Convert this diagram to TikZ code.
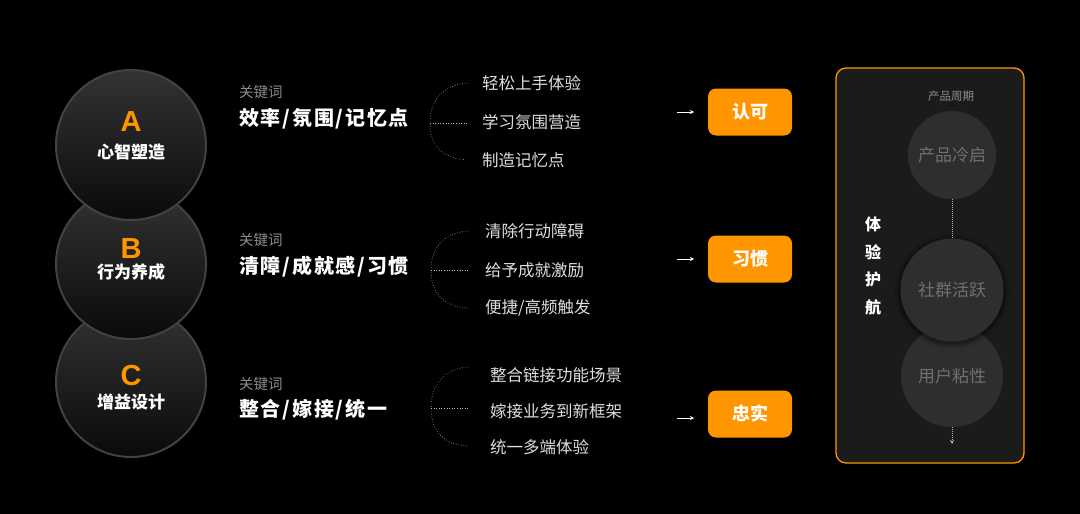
\documentclass[tikz,border=0pt]{standalone}
\usepackage{fontspec}
\setmainfont{Noto Sans CJK SC}
\newfontfamily\latf{Liberation Sans}
\newfontfamily\kwf[LetterSpace=9]{Noto Sans CJK SC}
\usetikzlibrary{arrows.meta}
\definecolor{org}{RGB}{255,150,0}
\definecolor{kw}{RGB}{140,140,140}
\definecolor{item}{RGB}{222,222,222}
\definecolor{panel}{RGB}{27,27,27}
\definecolor{pc}{RGB}{46,46,46}
\definecolor{pctext}{RGB}{112,112,112}
\newcommand{\fs}[1]{\fontsize{#1}{#1}\selectfont}
\tikzset{
  bigc/.style={circle, minimum size=150pt, inner sep=0pt, top color=black!80, bottom color=black!96, draw=black!74, line width=2pt},
  letter/.style={text=org, font=\latf\fs{29}\bfseries},
  ctitle/.style={text=white, font=\fs{17}\bfseries},
  kwlabel/.style={text=kw, font=\fs{14.5}, anchor=west, inner sep=0pt},
  kwmain/.style={text=white, font=\kwf\fs{20}\bfseries, anchor=west, inner sep=0pt},
  itemtxt/.style={text=item, font=\fs{16.5}, anchor=west, inner sep=0pt},
  bracket/.style={draw=white!75!black, line width=0.6pt, dotted},
  resbox/.style={fill=org, rounded corners=8pt, minimum width=84pt, minimum height=47pt, inner sep=0pt, text=white, font=\fs{18}\bfseries},
  arr/.style={draw=white, line width=0.9pt, -{Stealth[length=4pt,width=4pt]}},
  pcirc/.style={circle, fill=pc, inner sep=0pt, text=pctext, font=\fs{17}},
  halo/.style={circle, fill=black, inner sep=0pt},
}
\begin{document}
\begin{tikzpicture}[x=1pt,y=-1pt]
\fill[black] (0,0) rectangle (1080,514);
\useasboundingbox (0,0) rectangle (1080,514);

% left circles
\node[bigc] (cC) at (131,382) {};
\node[bigc] (cB) at (131,264) {};
\node[bigc] (cA) at (131,145) {};
\node[letter] (lA) at (131,122) {A};
\node[ctitle] (tA) at (131,152) {心智塑造};
\node[letter] (lB) at (131,249) {B};
\node[ctitle] (tB) at (131,272) {行为养成};
\node[letter] (lC) at (131,376) {C};
\node[ctitle] (tC) at (131,402) {增益设计};

% keywords
\node[kwlabel] (k1) at (239,92) {关键词};
\node[kwmain] (m1) at (239,119) {效率/氛围/记忆点};
\node[kwlabel] (k2) at (239,240) {关键词};
\node[kwmain] (m2) at (239,267) {清障/成就感/习惯};
\node[kwlabel] (k3) at (239,384) {关键词};
\node[kwmain] (m3) at (239,410) {整合/嫁接/统一};

% brackets row 1
\coordinate (b1t) at (468,83);
\coordinate (b1c) at (430,123);
\coordinate (b1m) at (468,123);
\coordinate (b1b) at (468,160);
\draw[bracket] (b1t) .. controls (443,85) and (430,100) .. (b1c) .. controls (430,146) and (443,159) .. (b1b);
\draw[bracket] (b1c) -- (b1m);
\node[itemtxt] (i11) at (482,83) {轻松上手体验};
\node[itemtxt] (i12) at (482,122) {学习氛围营造};
\node[itemtxt] (i13) at (482,160) {制造记忆点};

% row 2
\coordinate (b2t) at (468,231);
\coordinate (b2c) at (431,270);
\coordinate (b2m) at (468,270);
\coordinate (b2b) at (468,308);
\draw[bracket] (b2t) .. controls (444,233) and (431,248) .. (b2c) .. controls (431,293) and (444,307) .. (b2b);
\draw[bracket] (b2c) -- (b2m);
\node[itemtxt] (i21) at (485,231) {清除行动障碍};
\node[itemtxt] (i22) at (485,270) {给予成就激励};
\node[itemtxt] (i23) at (485,308) {便捷/高频触发};

% row 3
\coordinate (b3t) at (468,367);
\coordinate (b3c) at (431,408);
\coordinate (b3m) at (468,408);
\coordinate (b3b) at (468,446);
\draw[bracket] (b3t) .. controls (444,369) and (431,385) .. (b3c) .. controls (431,431) and (444,445) .. (b3b);
\draw[bracket] (b3c) -- (b3m);
\node[itemtxt] (i31) at (490,375) {整合链接功能场景};
\node[itemtxt] (i32) at (490,411) {嫁接业务到新框架};
\node[itemtxt] (i33) at (490,447) {统一多端体验};

% result boxes
\node[resbox] (r1) at (750,112) {认可};
\node[resbox] (r2) at (750,259) {习惯};
\node[resbox] (r3) at (750,414) {忠实};
\coordinate (a1) at (677,112);
\coordinate (a2) at (677,259);
\coordinate (a3) at (677,418);
\draw[arr] (a1) -- ++(17,0);
\draw[arr] (a2) -- ++(17,0);
\draw[arr] (a3) -- ++(17,0);

% right panel
\node[draw=org, line width=1.3pt, fill=panel, rounded corners=10pt, minimum width=188pt, minimum height=395pt, inner sep=0pt] (panel) at (930,265.5) {};
\node[text=kw, font=\fs{11.5}] (pl) at (951,96) {产品周期};
\node[text=white, font=\fs{16}\bfseries, align=center, inner sep=0pt] (vt) at (873,266) {体\\[11.5pt]验\\[11.5pt]护\\[11.5pt]航};

\node[pcirc, minimum size=102pt] (p3) at (952,376) {用户粘性};
\foreach \s/\o in {116/0.05,113/0.08,110/0.12,107/0.18}{
  \node[halo, minimum size=\s pt, opacity=\o] at (952,291) {};
}
\node[pcirc, minimum size=103pt] (p2) at (952,290) {社群活跃};
\node[pcirc, minimum size=88pt] (p1) at (952,155) {产品冷启};
\coordinate (pend) at (952,444);
\draw[draw=white!70!black, line width=1pt, densely dotted] (p1.south) -- (p2.north);
\draw[draw=white!70!black, line width=1pt, densely dotted, -{Stealth[length=4pt,width=4pt]}] (p3.south) -- (pend);
\end{tikzpicture}
\end{document}
